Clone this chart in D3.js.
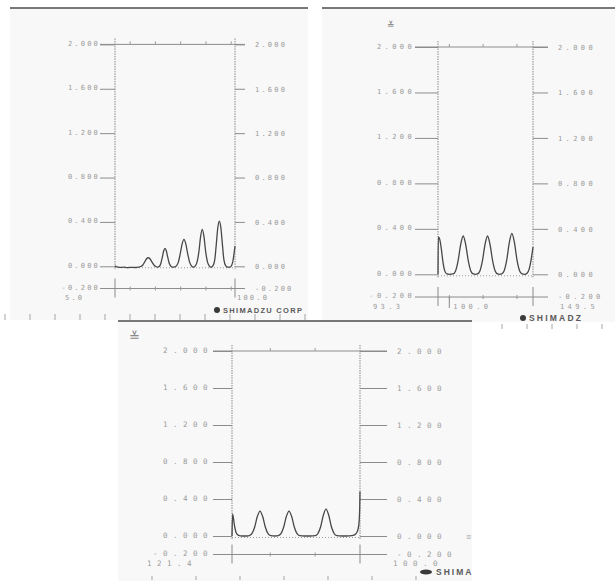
<!DOCTYPE html>
<html>
<head>
<meta charset="utf-8">
<script src="https://cdn.jsdelivr.net/npm/d3@7"></script>
<style>
  body { margin: 0; background: #fff; }
  svg { display: block; }
  .lbl { font-family: "DejaVu Sans Mono", monospace; fill: #9a9a9a; }
  .brand { font-family: "Liberation Sans", Arial, sans-serif; font-weight: bold; fill: #5a5a5a; }
</style>
</head>
<body>
<svg id="chart" width="615" height="581"></svg>
<script>
// y ticks printed on every sheet
const yTickValues = [2.0, 1.6, 1.2, 0.8, 0.4, 0.0];
const yTickLabels = ["2.000", "1.600", "1.200", "0.800", "0.400", "0.000"];
const yBottomValue = -0.2;
const yBottomLabel = "-0.200";

// x range of each sheet (start, end)
const xRange1 = [5.0, 100.0];
const xRange2 = [93.3, 149.5];
const xRange3 = [121.4, 100.0];

// labels printed under each sheet
const xLabels1 = ["5.0", "100.0"];
const xLabels2 = ["93.3", "100.0", "149.5"];
const xLabels3 = ["121.4", "100.0"];

// small ticks on the top / bottom rails
const minorTicks1 = [17, 37, 57, 77, 97];
const minorTicks2 = [100, 120, 140];
const minorTicks3 = [115, 107.5];

const brandTexts = ["SHIMADZU CORP", "SHIMADZ", "SHIMA"];

// traces  [x, absorbance]
const trace1 = [
  [5.0, 0.004], [6.5, -0.006], [9, -0.01], [12, -0.008], [15, -0.012], [18, -0.009],
  [21, -0.011], [23.5, -0.008], [25.5, -0.002], [27.0, 0.012], [28.5, 0.04], [30.0, 0.068],
  [31.4, 0.077], [32.8, 0.066], [34.3, 0.038], [35.8, 0.012], [37.3, -0.002], [38.8, -0.008],
  [40.2, 0.0], [41.4, 0.03], [42.6, 0.09], [43.6, 0.14], [44.6, 0.162], [45.6, 0.14],
  [46.6, 0.09], [47.8, 0.032], [49.0, 0.004], [50.5, -0.008], [52.2, -0.006], [53.8, 0.006],
  [55.2, 0.04], [56.6, 0.11], [58.2, 0.205], [59.6, 0.243], [61.0, 0.205], [62.6, 0.11],
  [64.0, 0.04], [65.4, 0.006], [67.0, -0.008], [68.6, 0.004], [70.0, 0.04], [71.4, 0.13],
  [72.8, 0.27], [74.1, 0.333], [75.4, 0.27], [76.8, 0.13], [78.2, 0.04], [79.6, 0.004],
  [81.0, -0.008], [82.6, 0.006], [84.0, 0.06], [85.2, 0.2], [86.4, 0.35], [87.6, 0.408],
  [88.8, 0.35], [90.0, 0.2], [91.2, 0.06], [92.6, 0.006], [94.2, -0.008], [96.0, -0.008],
  [97.4, 0.01], [98.4, 0.05], [99.3, 0.12], [100.0, 0.183]
];

const trace2 = [
  [93.3, 0.0], [93.5, 0.33], [94.3, 0.31], [95.3, 0.22], [96.3, 0.1], [97.3, 0.03],
  [98.5, 0.004], [100.0, 0.0], [102.2, 0.003], [103.7, 0.03], [105.2, 0.12], [106.7, 0.26],
  [108.2, 0.337], [109.7, 0.26], [111.2, 0.12], [112.7, 0.03], [114.2, 0.003], [115.4, 0.0],
  [116.6, 0.003], [118.1, 0.03], [119.6, 0.12], [121.1, 0.26], [122.6, 0.337], [124.1, 0.26],
  [125.6, 0.12], [127.1, 0.03], [128.6, 0.003], [129.8, 0.0], [131.0, 0.003], [132.5, 0.034],
  [134.0, 0.13], [135.5, 0.28], [137.0, 0.36], [138.5, 0.28], [140.0, 0.13], [141.5, 0.034],
  [143.0, 0.003], [144.5, 0.0], [146.0, 0.01], [147.3, 0.05], [148.4, 0.13], [149.5, 0.24]
];

const trace3 = [
  [121.4, 0.0], [121.3, 0.24], [121.0, 0.12], [120.7, 0.035], [120.3, 0.006], [119.7, 0.0],
  [118.9, 0.0], [118.5, 0.004], [118.07, 0.025], [117.62, 0.095], [117.17, 0.21], [116.72, 0.27],
  [116.27, 0.21], [115.82, 0.095], [115.37, 0.025], [114.92, 0.004], [114.2, 0.0], [113.67, 0.004],
  [113.22, 0.025], [112.77, 0.095], [112.32, 0.21], [111.87, 0.27], [111.42, 0.21], [110.97, 0.095],
  [110.52, 0.025], [110.07, 0.004], [109.3, 0.0], [108.3, 0.0], [107.48, 0.004], [107.03, 0.027],
  [106.58, 0.1], [106.13, 0.225], [105.68, 0.29], [105.23, 0.225], [104.78, 0.1], [104.33, 0.027],
  [103.88, 0.004], [103.0, 0.0], [101.8, 0.002], [101.0, 0.01], [100.5, 0.04], [100.2, 0.12],
  [100.05, 0.3], [100.0, 0.48]
];

// where each scanned sheet sits on the page
const sheets = [
  {paper: [10, 8, 308, 320], left: 115, right: 235, top: 44.4, zero: 266.3,
   leftGap: 15, rightLen: 10, font: 7, spacing: 2.2, xStartAt: 65, xEndAt: 237, xLabelY: 297,
   brandX: 217, brandY: 310, brandFont: 7.5, brandSpacing: 1.3,
   xRange: xRange1, xLabels: xLabels1, minor: minorTicks1, trace: trace1},
  {paper: [322, 8, 615, 322], left: 438, right: 533, top: 47, zero: 274.3,
   leftGap: 23, rightLen: 15, font: 7, spacing: 3.4, xStartAt: 373, xEndAt: 560, xLabelY: 306,
   brandX: 523, brandY: 318, brandFont: 8.5, brandSpacing: 2.2,
   xRange: xRange2, xLabels: xLabels2, minor: minorTicks2, trace: trace2},
  {paper: [118, 321, 472, 581], left: 232, right: 360, top: 351, zero: 536,
   leftGap: 19, rightLen: 27, font: 7.5, spacing: 5.5, xStartAt: 147, xEndAt: 393, xLabelY: 563,
   brandX: 426, brandY: 572, brandFont: 8.5, brandSpacing: 2,
   xRange: xRange3, xLabels: xLabels3, minor: minorTicks3, trace: trace3}
];

const svg = d3.select("#chart");
svg.append("rect").attr("width", 615).attr("height", 581).attr("fill", "#fff");

function drawPaper(s) {
  const [x0, y0, x1, y1] = s.paper;
  svg.append("rect")
     .attr("x", x0).attr("y", y0)
     .attr("width", x1 - x0).attr("height", y1 - y0)
     .attr("fill", "#f8f8f8");
  svg.append("line")
     .attr("x1", x0).attr("x2", x1).attr("y1", y0).attr("y2", y0)
     .attr("stroke", "#4d4d4d").attr("stroke-width", 1.6);
}

// ruler marks of the scanner strip
function drawRuler(start, step, count, y1, y2) {
  svg.append("g").selectAll("line")
     .data(d3.range(count))
     .enter().append("line")
     .attr("x1", i => start + i * step).attr("x2", i => start + i * step)
     .attr("y1", y1).attr("y2", y2)
     .attr("stroke", "#a5a5a5").attr("stroke-width", 1);
}

function drawSheet(s, idx, parent) {
  const g = parent.append("g");

  const x = d3.scaleLinear().domain(s.xRange).range([s.left, s.right]);
  const y = d3.scaleLinear().domain([0, 2]).range([s.zero, s.top]);
  const yb = y(yBottomValue);
  const railL = s.left - s.leftGap;
  const railR = s.right + s.rightLen;

  // left axis
  const leftAxis = d3.axisLeft(y)
      .tickValues(yTickValues)
      .tickSize(s.leftGap)
      .tickPadding(0)
      .tickFormat((d, i) => yTickLabels[i]);
  const la = g.append("g").attr("transform", `translate(${s.left},0)`).call(leftAxis);
  la.select(".domain").remove();
  la.selectAll("line").attr("stroke", "#8c8c8c");
  la.selectAll("text")
    .attr("class", "lbl")
    .attr("dy", "0.15em")
    .style("font-size", s.font + "px")
    .style("letter-spacing", s.spacing + "px")
    .attr("fill", null);

  // right axis
  const rightAxis = d3.axisRight(y)
      .tickValues(yTickValues)
      .tickSize(s.rightLen)
      .tickPadding(10)
      .tickFormat((d, i) => yTickLabels[i]);
  const ra = g.append("g").attr("transform", `translate(${s.right},0)`).call(rightAxis);
  ra.select(".domain").remove();
  ra.selectAll("line").attr("stroke", "#8c8c8c");
  ra.selectAll("text")
    .attr("class", "lbl")
    .attr("dy", "0.35em")
    .style("font-size", s.font + "px")
    .style("letter-spacing", s.spacing + "px")
    .attr("fill", null);

  // bottom rail labels (-0.200)
  g.append("text").attr("class", "lbl")
   .attr("x", railL).attr("y", yb).attr("dy", "0.15em")
   .attr("text-anchor", "end")
   .style("font-size", s.font + "px").style("letter-spacing", s.spacing + "px")
   .text(yBottomLabel);
  g.append("text").attr("class", "lbl")
   .attr("x", railR + 10).attr("y", yb).attr("dy", "0.3em")
   .style("font-size", s.font + "px").style("letter-spacing", s.spacing + "px")
   .text(yBottomLabel);

  // top and bottom rails
  [y(2), yb].forEach(yy => {
    g.append("line")
     .attr("x1", railL).attr("x2", railR).attr("y1", yy).attr("y2", yy)
     .attr("stroke", "#8c8c8c").attr("stroke-width", 1);
  });
  g.selectAll(".minor-top")
   .data(s.minor).enter().append("line")
   .attr("x1", d => x(d)).attr("x2", d => x(d))
   .attr("y1", y(2) - 3).attr("y2", y(2))
   .attr("stroke", "#999");
  g.selectAll(".minor-bot")
   .data(s.minor).enter().append("line")
   .attr("x1", d => x(d)).attr("x2", d => x(d))
   .attr("y1", yb - 2).attr("y2", yb + 2)
   .attr("stroke", "#999");

  // frame verticals (dotted) and their feet at the bottom rail
  s.xRange.forEach(v => {
    g.append("line")
     .attr("x1", x(v)).attr("x2", x(v))
     .attr("y1", y(2) - 6).attr("y2", s.zero + 3)
     .attr("stroke", "#8a8a8a").attr("stroke-width", 1)
     .attr("stroke-dasharray", "1.5,1");
    g.append("line")
     .attr("x1", x(v)).attr("x2", x(v))
     .attr("y1", yb - 10).attr("y2", yb + 9)
     .attr("stroke", "#8a8a8a").attr("stroke-width", 1);
  });

  // zero baseline drawn by the instrument
  g.append("line")
   .attr("x1", s.left).attr("x2", s.right)
   .attr("y1", s.zero + 1.5).attr("y2", s.zero + 1.5)
   .attr("stroke", "#9a9a9a").attr("stroke-dasharray", "1,2");

  // x labels
  const xl = s.xLabels;
  xl.forEach((t, i) => {
    let px;
    if (i === 0) px = s.xStartAt;
    else if (i === xl.length - 1) px = s.xEndAt;
    else {
      px = x(+t) + 4;
      g.append("line")
       .attr("x1", x(+t)).attr("x2", x(+t))
       .attr("y1", yb).attr("y2", s.xLabelY + 2)
       .attr("stroke", "#8a8a8a");
    }
    g.append("text").attr("class", "lbl")
     .attr("x", px).attr("y", s.xLabelY + 2.5)
     .style("font-size", s.font + "px").style("letter-spacing", s.spacing + "px")
     .text(t);
  });

  // the trace
  const line = d3.line()
      .x(d => x(d[0]))
      .y(d => y(d[1]))
      .curve(d3.curveMonotoneX);
  g.append("path")
   .datum(s.trace)
   .attr("d", line)
   .attr("fill", "none")
   .attr("stroke", "#474747")
   .attr("stroke-width", 1.3);

  // maker imprint
  g.append("ellipse")
   .attr("cx", s.brandX).attr("cy", s.brandY)
   .attr("rx", idx === 2 ? 6 : 3).attr("ry", idx === 2 ? 2.5 : 3)
   .attr("fill", "#3a3a3a");
  g.append("text").attr("class", "brand")
   .attr("x", s.brandX + (idx === 2 ? 10 : 6)).attr("y", s.brandY + 3)
   .style("font-size", s.brandFont + "px")
   .style("letter-spacing", s.brandSpacing + "px")
   .text(brandTexts[idx]);
}

drawPaper(sheets[0]);
drawPaper(sheets[1]);
drawRuler(5, 25, 13, 314, 320);
drawRuler(502, 25, 5, 324, 329);
drawSheet(sheets[0], 0, svg);
drawSheet(sheets[1], 1, svg);

// third sheet lies over the first two
svg.append("defs").append("clipPath").attr("id", "clip3")
   .append("rect").attr("x", 118).attr("y", 321).attr("width", 354).attr("height", 260);
drawPaper(sheets[2]);
drawRuler(152, 44, 7, 576, 580);
const sheet3 = svg.append("g").attr("clip-path", "url(#clip3)");
drawSheet(sheets[2], 2, sheet3);

// stamp marks at the sheet corners
svg.append("text").attr("x", 387).attr("y", 28)
   .attr("fill", "#777").style("font-size", "9px").text("≚");
svg.append("text").attr("x", 129).attr("y", 341)
   .attr("fill", "#888").style("font-size", "13px").text("≚");
svg.append("text").attr("x", 466).attr("y", 540)
   .attr("fill", "#999").style("font-size", "9px").text("≡");
</script>
</body>
</html>
